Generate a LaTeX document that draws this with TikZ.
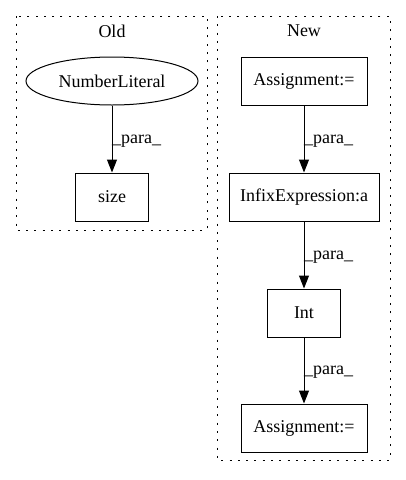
\documentclass[tikz,border=0pt]{standalone}
\usepackage{fontspec}
\setmainfont{Liberation Serif}
\usetikzlibrary{arrows.meta,shapes.geometric}
\begin{document}
\begin{tikzpicture}[x=1pt,y=-1pt,
  box/.style={draw,line width=1pt,inner sep=0pt,minimum height=48pt,font=\fontsize{18}{20}\selectfont},
  oval/.style={draw,ellipse,line width=1pt,inner sep=0pt,minimum width=172pt,minimum height=48pt,font=\fontsize{18}{20}\selectfont},
  cluster/.style={draw,line width=1pt,dash pattern=on 2pt off 6.3pt},
  ctitle/.style={font=\fontsize{18}{20}\selectfont},
  elabel/.style={anchor=west,inner sep=0pt,font=\fontsize{18}{20}\selectfont},
  edge/.style={line width=1pt,-{Triangle[length=13pt,width=10pt]}}]
\useasboundingbox (0,0) rectangle (405,480);
% clusters
\draw[cluster] (16,16) rectangle (207,230);
\node[ctitle] (old) at (112,31) {Old};
\draw[cluster] (217,16) rectangle (390,460);
\node[ctitle] (new) at (304,31) {New};
% old nodes
\node[oval] (num) at (112,81) {NumberLiteral};
\node[box,minimum width=73pt] (size) at (112,197) {size};
\draw[edge] (num) -- (size);
\node[elabel] (l1) at (112,141) {\_para\_};
% new nodes
\node[box,minimum width=126pt] (a1) at (304,81) {Assignment:=};
\node[box,minimum width=150pt] (inf) at (304,197) {InfixExpression:a};
\node[box,minimum width=73pt] (int) at (304,313) {Int};
\node[box,minimum width=126pt] (a2) at (304,428) {Assignment:=};
\draw[edge] (a1) -- (inf);
\node[elabel] (l2) at (304,141) {\_para\_};
\draw[edge] (inf) -- (int);
\node[elabel] (l3) at (304,257) {\_para\_};
\draw[edge] (int) -- (a2);
\node[elabel] (l4) at (304,372) {\_para\_};
\end{tikzpicture}
\end{document}
